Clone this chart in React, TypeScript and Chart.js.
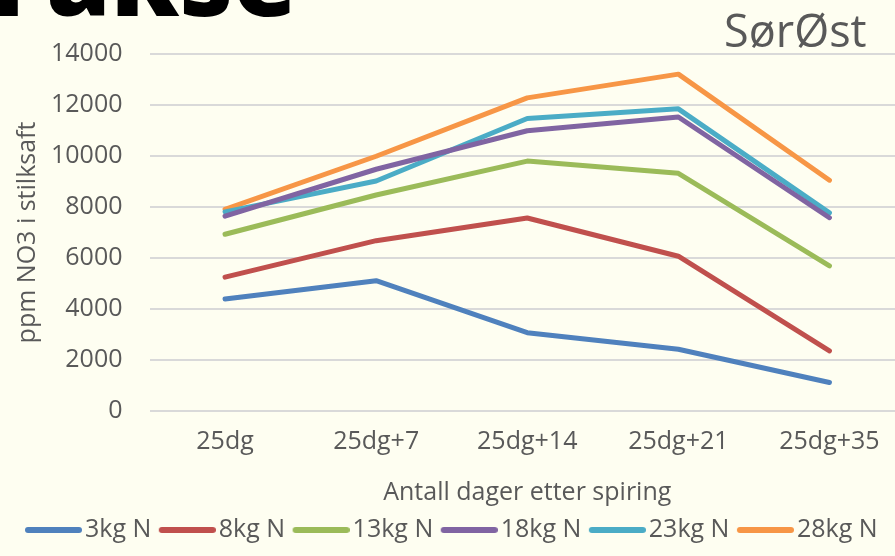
import React, { useEffect, useRef } from 'react';
import { Chart, registerables } from 'chart.js';

Chart.register(...registerables);

const categories = ['25dg', '25dg+7', '25dg+14', '25dg+21', '25dg+35'];
const seriesNames = ['3kg N', '8kg N', '13kg N', '18kg N', '23kg N', '28kg N'];
const kg3 = [4390, 5110, 3070, 2420, 1120];
const kg8 = [5250, 6680, 7570, 6070, 2360];
const kg13 = [6930, 8470, 9800, 9320, 5690];
const kg18 = [7640, 9480, 10990, 11530, 7580];
const kg23 = [7810, 9020, 11470, 11850, 7770];
const kg28 = [7910, 9990, 12280, 13210, 9050];
const seriesColors = ['#4F81BD', '#C0504D', '#9BBB59', '#8064A2', '#4BACC6', '#F79646'];
const yMin = 0;
const yMax = 14000;
const yStep = 2000;
const chartTitle = 'Fakse';
const regionLabel = 'SørØst';
const yTitle = 'ppm NO3 i stilksaft';
const xTitle = 'Antall dager etter spiring';

const BG = '#FEFEF1';
const TEXT = '#595959';
const FONT = '"Open Sans", "DejaVu Sans", sans-serif';

function legendSwatch(color: string): HTMLCanvasElement {
  const c = document.createElement('canvas');
  c.width = 64;
  c.height = 8;
  const ctx = c.getContext('2d');
  if (ctx) {
    ctx.strokeStyle = color;
    ctx.lineWidth = 6;
    ctx.lineCap = 'round';
    ctx.beginPath();
    ctx.moveTo(10, 4);
    ctx.lineTo(61, 4);
    ctx.stroke();
  }
  return c;
}

export default function App() {
  const ref = useRef<HTMLCanvasElement | null>(null);

  useEffect(() => {
    const canvas = ref.current;
    if (!canvas) return;
    const values = [kg3, kg8, kg13, kg18, kg23, kg28];
    const swatches = seriesColors.map(legendSwatch);

    const textPlugin = {
      id: 'headerText',
      afterDraw(chart: any) {
        const ctx = chart.ctx;
        ctx.save();
        ctx.textBaseline = 'alphabetic';
        ctx.textAlign = 'left';
        ctx.fillStyle = '#000000';
        ctx.font = '800 104px ' + FONT;
        ctx.fillText(chartTitle, -10, 16);
        ctx.fillStyle = TEXT;
        ctx.font = '45px ' + FONT;
        ctx.fillText(regionLabel, 724, 47);
        ctx.restore();
      },
    };

    const chart = new Chart(canvas, {
      type: 'line',
      data: {
        labels: categories,
        datasets: values.map((v, i) => ({
          label: seriesNames[i],
          data: v,
          borderColor: seriesColors[i],
          backgroundColor: seriesColors[i],
          borderWidth: 5,
          borderCapStyle: 'round',
          borderJoinStyle: 'round',
          pointRadius: 0,
          pointHoverRadius: 0,
          tension: 0,
          fill: false,
        })),
      },
      options: {
        animation: false,
        responsive: false,
        devicePixelRatio: 1,
        layout: { padding: { top: 54, bottom: 3.5, left: 0, right: 0 } },
        font: { family: FONT, size: 25 },
        plugins: {
          tooltip: { enabled: false },
          title: { display: false },
          legend: {
            position: 'bottom',
            labels: {
              color: TEXT,
              font: { family: FONT, size: 25 },
              usePointStyle: true,
              pointStyleWidth: 45,
              padding: 10,
              generateLabels: (c: any) =>
                c.data.datasets.map((ds: any, i: number) => ({
                  text: ds.label,
                  fillStyle: ds.borderColor,
                  strokeStyle: ds.borderColor,
                  lineWidth: 0,
                  pointStyle: swatches[i],
                  hidden: false,
                  datasetIndex: i,
                  fontColor: TEXT,
                })),
            },
          },
        },
        scales: {
          x: {
            offset: true,
            grid: { display: false, drawTicks: false },
            border: { display: false },
            ticks: { color: TEXT, font: { family: FONT, size: 25 }, padding: 16, maxRotation: 0 },
            title: {
              display: true,
              text: xTitle,
              color: TEXT,
              font: { family: FONT, size: 25 },
              padding: { top: 0, bottom: 0 },
            },
            afterFit: (s: any) => {
              s.height = 96.5;
            },
          },
          y: {
            min: yMin,
            max: yMax,
            grid: { color: '#D9D9D9', lineWidth: 2, drawTicks: false },
            border: { display: false },
            ticks: {
              stepSize: yStep,
              color: TEXT,
              font: { family: FONT, size: 25 },
              padding: 27,
              callback: (v: any) => String(v),
            },
            title: {
              display: true,
              text: yTitle,
              color: TEXT,
              font: { family: FONT, size: 25 },
              padding: { top: 13, bottom: 0 },
            },
            afterFit: (s: any) => {
              s.width = 149.5;
            },
          },
        },
      },
      plugins: [textPlugin],
    } as any);

    return () => chart.destroy();
  }, []);

  return (
    <div
      style={{
        position: 'fixed',
        left: 0,
        top: 0,
        width: 895,
        height: 556,
        overflow: 'hidden',
        background: BG,
      }}
    >
      <canvas ref={ref} width={905} height={556} style={{ display: 'block', width: 905, height: 556 }} />
    </div>
  );
}
